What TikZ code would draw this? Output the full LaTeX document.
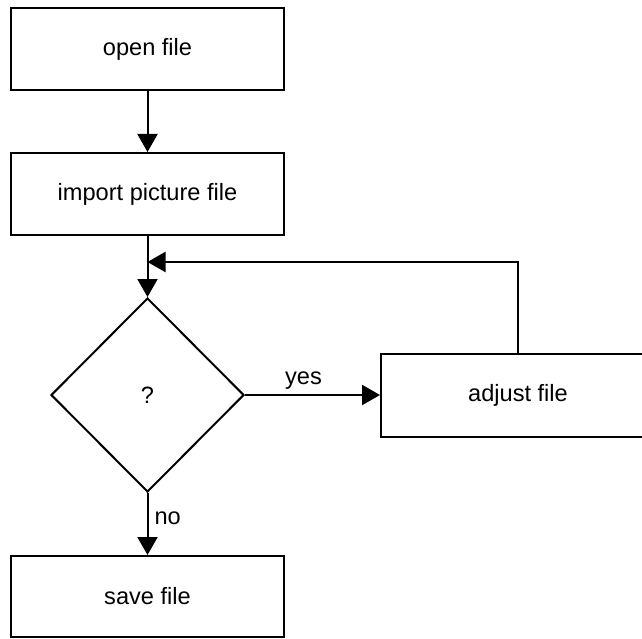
\documentclass[tikz,border=0pt]{standalone}
\usepackage{fontspec}
\setmainfont{Liberation Sans}
\usetikzlibrary{shapes.geometric,arrows.meta}
\begin{document}
\begin{tikzpicture}[x=1pt,y=-1pt,
  every node/.style={font=\fontsize{23.6}{28}\selectfont},
  procbox/.style={draw,line width=2pt,rectangle,inner sep=0pt,minimum width=273pt,minimum height=82pt},
  decision/.style={draw,line width=2pt,diamond,inner sep=0pt,minimum width=193pt,minimum height=194pt},
  conn/.style={line width=2pt,-{Triangle[length=18pt,width=20pt]}},
  plain/.style={line width=2pt}]
\clip (0,0) rectangle (642,639);
\useasboundingbox (0,0) rectangle (642,639);
\node[procbox] (open) at (147.5,49) {open file};
\node[procbox] (import) at (147.5,194) {import picture file};
\node[decision] (dec) at (147.5,395) {?};
\node[procbox,minimum height=83pt,minimum width=274pt] (adj) at (518,395) {adjust file};
\node[procbox,minimum height=81pt] (save) at (147.5,596.5) {save file};
\coordinate (fb) at (147.5,262);
\draw[conn] (open) -- (import);
\draw[conn] (import) -- (dec);
\draw[conn] (adj.north) |- (fb);
\draw[conn] (dec.east) -- node[anchor=base,inner sep=0pt,yshift=11pt,xshift=-9pt] (yes) {yes} (adj.west);
\draw[conn] (dec.south) -- node[anchor=base west,inner sep=0pt,xshift=6pt,yshift=0pt] (no) {no} (save.north);
\end{tikzpicture}
\end{document}
